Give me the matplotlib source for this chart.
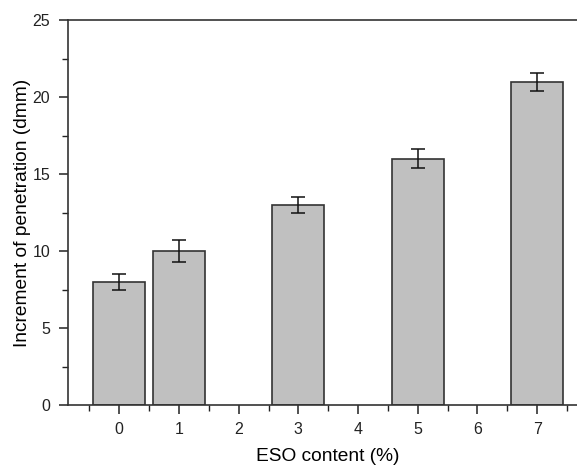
import matplotlib
matplotlib.use("Agg")
import matplotlib.pyplot as plt
from matplotlib.ticker import MultipleLocator

plt.rcParams['font.family'] = ['Liberation Sans', 'DejaVu Sans']

eso = [0, 1, 3, 5, 7]
penetration = [8, 10, 13, 16, 21]
errors = [0.5, 0.7, 0.5, 0.6, 0.6]
xticks = [0, 1, 2, 3, 4, 5, 6, 7]

fig = plt.figure(figsize=(5.77, 4.67), dpi=100)
ax = fig.add_axes([0.1173, 0.1328, 0.903, 0.824])

ax.bar(eso, penetration, width=0.876, color='#c0c0c0', edgecolor='#333333',
       linewidth=1.2, zorder=2)
ax.errorbar(eso, penetration, yerr=errors, fmt='none', ecolor='#111111',
            elinewidth=1.1, capsize=5, capthick=1.1, zorder=3)

ax.set_xlim(-0.865, 7.865)
ax.set_ylim(0, 25)
ax.set_xticks(xticks)
ax.xaxis.set_minor_locator(MultipleLocator(0.5))
ax.yaxis.set_major_locator(MultipleLocator(5))
ax.yaxis.set_minor_locator(MultipleLocator(2.5))

ax.tick_params(which='major', direction='out', length=6.5, width=1.1,
               labelsize=11.5, colors='#222222', pad=6)
ax.tick_params(which='minor', direction='out', length=4, width=1.0,
               colors='#222222')
ax.tick_params(top=False, right=False, which='both')

for sp in ax.spines.values():
    sp.set_linewidth(1.2)
    sp.set_color('#333333')

ax.set_xlabel('ESO content (%)', fontsize=13.8, labelpad=7.5)
ax.set_ylabel('Increment of penetration (dmm)', fontsize=13.8, labelpad=1)

fig.savefig('out.png', dpi=100)
